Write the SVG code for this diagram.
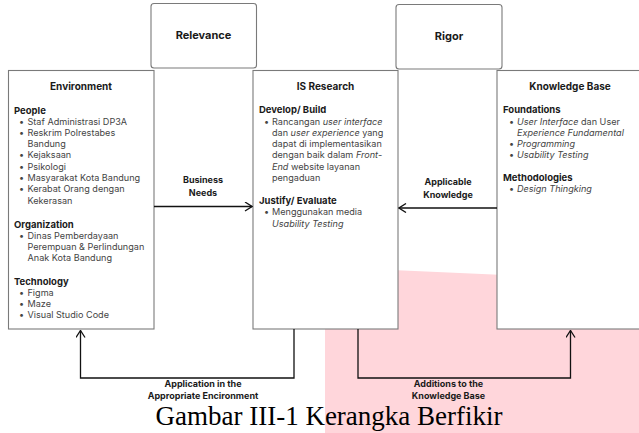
<svg xmlns="http://www.w3.org/2000/svg" width="639" height="433" viewBox="0 0 639 433">
<defs>
<marker id="arr" viewBox="0 0 10 10" refX="9" refY="5" markerWidth="10" markerHeight="10" markerUnits="userSpaceOnUse" orient="auto">
<path d="M2,0.5 L9,5 L2,9.5" fill="none" stroke="#111" stroke-width="1.3"/>
</marker>
</defs>
<style>
.box{fill:#fff;stroke:#7a7a7a;stroke-width:1.1}
.conn{fill:none;stroke:#111;stroke-width:1.3}
text{font-family:Inter,"Liberation Sans",sans-serif}
.ttl{font-size:10px;font-weight:700;fill:#1a1a1a;text-anchor:middle}
.top{font-size:11px;font-weight:700;fill:#1a1a1a;text-anchor:middle}
.hd{font-size:9.5px;font-weight:700;fill:#1a1a1a}
.it{font-size:9.1px;fill:#444}
.lbl{font-size:9px;font-weight:700;fill:#1a1a1a;text-anchor:middle}
.i{font-style:italic}
.cap{font-family:"Liberation Serif","Times New Roman",serif;font-size:27px;fill:#000;text-anchor:middle}
</style>
<rect width="639" height="433" fill="#fff"/>
<polygon points="325,267 639,281 639,433 325,433" fill="#ffd6db"/>

<g id="relevance">
<rect class="box" x="151" y="3.5" width="105.5" height="64.5" rx="3"/>
<text class="top" x="203.5" y="39">Relevance</text>
</g>
<g id="rigor">
<rect class="box" x="396" y="4.5" width="106" height="64.5" rx="3"/>
<text class="top" x="449" y="40">Rigor</text>
</g>

<g id="environment">
<rect class="box" x="8.5" y="70.5" width="145.5" height="258.5"/>
<text class="ttl" x="81" y="90">Environment</text>
<text class="hd" x="14" y="113.5">People</text>
<g class="it">
<text x="19" y="124.5">•</text><text x="27.5" y="124.5">Staf Administrasi DP3A</text>
<text x="19" y="135.8">•</text><text x="27.5" y="135.8">Reskrim Polrestabes</text>
<text x="27.5" y="147.1">Bandung</text>
<text x="19" y="158.4">•</text><text x="27.5" y="158.4">Kejaksaan</text>
<text x="19" y="169.7">•</text><text x="27.5" y="169.7">Psikologi</text>
<text x="19" y="181">•</text><text x="27.5" y="181">Masyarakat Kota Bandung</text>
<text x="19" y="192.3">•</text><text x="27.5" y="192.3">Kerabat Orang dengan</text>
<text x="27.5" y="203.6">Kekerasan</text>
</g>
<text class="hd" x="14" y="227.5">Organization</text>
<g class="it">
<text x="19" y="238.5">•</text><text x="27.5" y="238.5">Dinas Pemberdayaan</text>
<text x="27.5" y="249.8">Perempuan &amp; Perlindungan</text>
<text x="27.5" y="261.1">Anak Kota Bandung</text>
</g>
<text class="hd" x="14" y="284.5">Technology</text>
<g class="it">
<text x="19" y="295.6">•</text><text x="27.5" y="295.6">Figma</text>
<text x="19" y="306.9">•</text><text x="27.5" y="306.9">Maze</text>
<text x="19" y="318.2">•</text><text x="27.5" y="318.2">Visual Studio Code</text>
</g>
</g>

<g id="is-research">
<rect class="box" x="253" y="70.5" width="145" height="258.5"/>
<text class="ttl" x="325.5" y="90">IS Research</text>
<text class="hd" x="259" y="112.5">Develop/ Build</text>
<g class="it">
<text x="264" y="124.5">•</text><text x="272" y="124.5">Rancangan <tspan class="i">user interface</tspan></text>
<text x="272" y="135.8">dan <tspan class="i">user experience</tspan> yang</text>
<text x="272" y="147.1">dapat di implementasikan</text>
<text x="272" y="158.4">dengan baik dalam <tspan class="i">Front-</tspan></text>
<text x="272" y="169.7"><tspan class="i">End</tspan> website layanan</text>
<text x="272" y="181">pengaduan</text>
</g>
<text class="hd" x="259" y="204">Justify/ Evaluate</text>
<g class="it">
<text x="264" y="215.3">•</text><text x="272" y="215.3">Menggunakan media</text>
<text x="272" y="226.6" class="i">Usability Testing</text>
</g>
</g>

<g id="knowledge-base">
<rect class="box" x="497" y="70.5" width="146" height="258.5"/>
<text class="ttl" x="570" y="90">Knowledge Base</text>
<text class="hd" x="503" y="112.5">Foundations</text>
<g class="it">
<text x="509" y="124.5">•</text><text x="517" y="124.5"><tspan class="i">User Interface</tspan> dan User</text>
<text x="517" y="135.8" class="i">Experience Fundamental</text>
<text x="509" y="147.1">•</text><text x="517" y="147.1" class="i">Programming</text>
<text x="509" y="158.4">•</text><text x="517" y="158.4" class="i">Usability Testing</text>
</g>
<text class="hd" x="503" y="180.5">Methodologies</text>
<g class="it">
<text x="509" y="191.8">•</text><text x="517" y="191.8" class="i">Design Thingking</text>
</g>
</g>

<g id="connectors">
<path class="conn" d="M154,206.5 H252" marker-end="url(#arr)"/>
<path class="conn" d="M497,208 H399" marker-end="url(#arr)"/>
<path class="conn" d="M294,329 V378 H80.5 V330.5" marker-end="url(#arr)"/>
<path class="conn" d="M358,329 V378 H570.5 V330.5" marker-end="url(#arr)"/>
<text class="lbl" x="203" y="183">Business</text>
<text class="lbl" x="203" y="195.5">Needs</text>
<text class="lbl" x="448" y="185">Applicable</text>
<text class="lbl" x="448" y="197.5">Knowledge</text>
<text class="lbl" x="203" y="387">Application in the</text>
<text class="lbl" x="203" y="398.5">Appropriate Encironment</text>
<text class="lbl" x="448.5" y="387">Additions to the</text>
<text class="lbl" x="448.5" y="398.5">Knowledge Base</text>
</g>

<text class="cap" x="329" y="425">Gambar III-1 Kerangka Berfikir</text>
</svg>
